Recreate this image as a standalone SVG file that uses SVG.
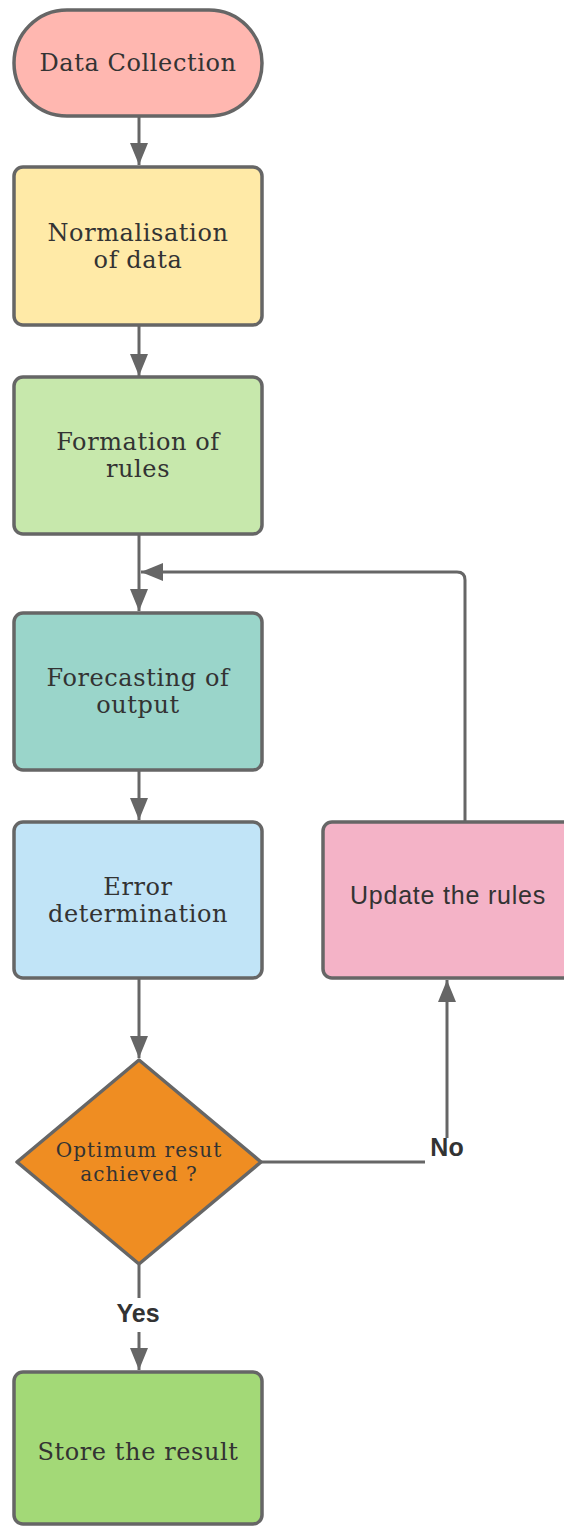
<svg xmlns="http://www.w3.org/2000/svg" width="564" height="1526" viewBox="0 0 564 1526">
  <defs>
    <marker id="arrow" viewBox="0 0 22 18" refX="22" refY="9" markerWidth="22" markerHeight="18" markerUnits="userSpaceOnUse" orient="auto">
      <path d="M0,0 L22,9 L0,18 Z" fill="#666666"/>
    </marker>
    <style>
      .box { stroke: #666666; stroke-width: 3.5; }
      .edge { fill: none; stroke: #666666; stroke-width: 3; }
      .lbl { font-family: "DejaVu Serif", "Liberation Serif", serif; font-size: 24px; letter-spacing: 0.6px; fill: #333333; text-anchor: middle; }
      .small { font-size: 20px; letter-spacing: 1px; }
      .sans { font-family: "Liberation Sans", Arial, sans-serif; font-size: 25px; letter-spacing: 0.8px; fill: #333333; text-anchor: middle; }
      .tag { font-family: "Liberation Sans", Arial, sans-serif; font-size: 25px; font-weight: bold; fill: #333333; text-anchor: middle; }
    </style>
  </defs>
  <rect width="564" height="1526" fill="#ffffff"/>

  <!-- connectors -->
  <g id="connectors">
    <path class="edge" d="M139,117 V165" marker-end="url(#arrow)"/>
    <path class="edge" d="M139,326 V376" marker-end="url(#arrow)"/>
    <path class="edge" d="M139,534 V611" marker-end="url(#arrow)"/>
    <path class="edge" d="M465,822 V580 Q465,572 457,572 H141" marker-end="url(#arrow)"/>
    <path class="edge" d="M139,770 V820" marker-end="url(#arrow)"/>
    <path class="edge" d="M139,978 V1058" marker-end="url(#arrow)"/>
    <path class="edge" d="M261,1162 H425"/>
    <path class="edge" d="M447,1138 V980" marker-end="url(#arrow)"/>
    <text class="tag" x="447" y="1156">No</text>
    <path class="edge" d="M139,1265 V1298"/>
    <path class="edge" d="M139,1332 V1370" marker-end="url(#arrow)"/>
    <text class="tag" x="138" y="1322">Yes</text>
  </g>

  <g id="data-collection">
    <rect class="box" x="14" y="10" width="248" height="106" rx="53" fill="#ffb7b0"/>
    <text class="lbl" x="138" y="71">Data Collection</text>
  </g>

  <g id="normalisation">
    <rect class="box" x="14" y="167" width="248" height="158" rx="9" fill="#ffeaa7"/>
    <text class="lbl" x="138" y="241">Normalisation</text>
    <text class="lbl" x="138" y="268">of data</text>
  </g>

  <g id="formation">
    <rect class="box" x="14" y="377" width="248" height="157" rx="9" fill="#c7e8ac"/>
    <text class="lbl" x="138" y="450">Formation of</text>
    <text class="lbl" x="138" y="477">rules</text>
  </g>

  <g id="forecasting">
    <rect class="box" x="14" y="613" width="248" height="157" rx="9" fill="#9ad5ca"/>
    <text class="lbl" x="138" y="686">Forecasting of</text>
    <text class="lbl" x="138" y="713">output</text>
  </g>

  <g id="error">
    <rect class="box" x="14" y="822" width="248" height="156" rx="9" fill="#c1e4f7"/>
    <text class="lbl" x="138" y="895">Error</text>
    <text class="lbl" x="138" y="922">determination</text>
  </g>

  <g id="update">
    <rect class="box" x="323" y="822" width="250" height="156" rx="9" fill="#f4b3c7"/>
    <text class="sans" x="448" y="904">Update the rules</text>
  </g>

  <g id="decision">
    <path class="box" d="M139,1060 L261,1162 L139,1264 L17,1162 Z" stroke-linejoin="round" fill="#ef8d22"/>
    <text class="lbl small" x="139" y="1157">Optimum resut</text>
    <text class="lbl small" x="139" y="1181">achieved ?</text>
  </g>

  <g id="store">
    <rect class="box" x="14" y="1372" width="248" height="152" rx="9" fill="#a3d977"/>
    <text class="lbl" x="138" y="1460">Store the result</text>
  </g>
</svg>
